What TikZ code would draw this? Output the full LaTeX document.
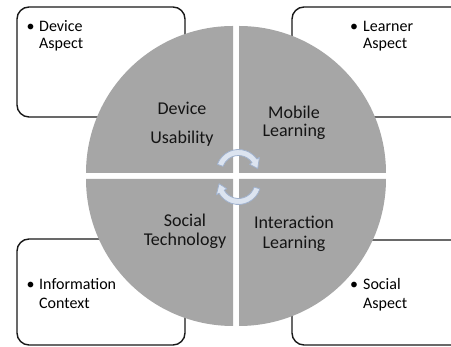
\documentclass[tikz,border=0pt]{standalone}
\usepackage{fontspec}
\setmainfont{Carlito}
\definecolor{quadgray}{RGB}{166,166,166}
\definecolor{arrfill}{RGB}{220,228,240}
\definecolor{arrline}{RGB}{160,178,206}
\definecolor{boxline}{RGB}{25,25,25}
\begin{document}
\begin{tikzpicture}[x=1pt,y=1pt,
  aspectbox/.style={draw=boxline, line width=1.4pt, fill=white, rounded corners=12pt},
  quadrant/.style={fill=quadgray},
  cyclearrow/.style={fill=arrfill, draw=arrline, line width=0.8pt, line join=round},
  boxtext/.style={font=\fontsize{16}{18}\selectfont, inner sep=0pt, anchor=base west, text=black},
  bullettext/.style={font=\fontsize{16}{18}\selectfont, inner sep=0pt, anchor=base, text=black},
  quadtext/.style={font=\fontsize{18}{20}\selectfont, inner sep=0pt, anchor=base, text=black!92}]
\useasboundingbox (0,0) rectangle (451,347);
\clip (0,0) rectangle (451,347);
% aspect boxes
\draw[aspectbox] (17,230) rectangle (185,340);
\draw[aspectbox] (292,230) rectangle (480,340);
\draw[aspectbox] (17,2) rectangle (185,108);
\draw[aspectbox] (292,2) rectangle (480,107);
% quadrants
\fill[quadrant] (233,174) -- ++(-147,0) arc[start angle=180, end angle=90, radius=147] -- cycle;
\fill[quadrant] (239,174) -- ++(147,0) arc[start angle=0, end angle=90, radius=147] -- cycle;
\fill[quadrant] (233,168) -- ++(-147,0) arc[start angle=180, end angle=270, radius=147] -- cycle;
\fill[quadrant] (239,168) -- ++(147,0) arc[start angle=0, end angle=-90, radius=147] -- cycle;
% cycle arrows
\begin{scope}[shift={(238.5,175)}]
  \draw[cyclearrow] (160:22.5) arc[start angle=160, end angle=35, radius=22.5]
    -- (35:25.5) -- (10:19.5) -- (35:13.5) -- (35:16.5)
    arc[start angle=35, end angle=160, radius=16.5] -- cycle;
\end{scope}
\begin{scope}[shift={(238.5,165)}]
  \draw[cyclearrow] (-18:22.5) arc[start angle=-18, end angle=-150, radius=22.5]
    -- (-150:25.5) -- (-175:19.5) -- (-150:13.5) -- (-150:16.5)
    arc[start angle=-150, end angle=-18, radius=16.5] -- cycle;
\end{scope}
% box texts
\node[bullettext] (b1) at (30.5,315.5) {•};
\node[boxtext] (t1a) at (39,315.5) {Device};
\node[boxtext] (t1b) at (39,298) {Aspect};
\node[bullettext] (b2) at (354,315.5) {•};
\node[boxtext] (t2a) at (363,315.5) {Learner};
\node[boxtext] (t2b) at (363,298) {Aspect};
\node[bullettext] (b3) at (30.5,57) {•};
\node[boxtext] (t3a) at (39,57) {Information};
\node[boxtext] (t3b) at (39,38) {Context};
\node[bullettext] (b4) at (354,57) {•};
\node[boxtext] (t4a) at (363,57) {Social};
\node[boxtext] (t4b) at (363,38) {Aspect};
% quadrant texts
\node[quadtext] (q1a) at (182,232) {Device};
\node[quadtext] (q1b) at (182,203.5) {Usability};
\node[quadtext] (q2a) at (294,228) {Mobile};
\node[quadtext] (q2b) at (294,210) {Learning};
\node[quadtext] (q3a) at (185,120) {Social};
\node[quadtext] (q3b) at (185,101) {Technology};
\node[quadtext] (q4a) at (294,118) {Interaction};
\node[quadtext] (q4b) at (294,98) {Learning};
\end{tikzpicture}
\end{document}
